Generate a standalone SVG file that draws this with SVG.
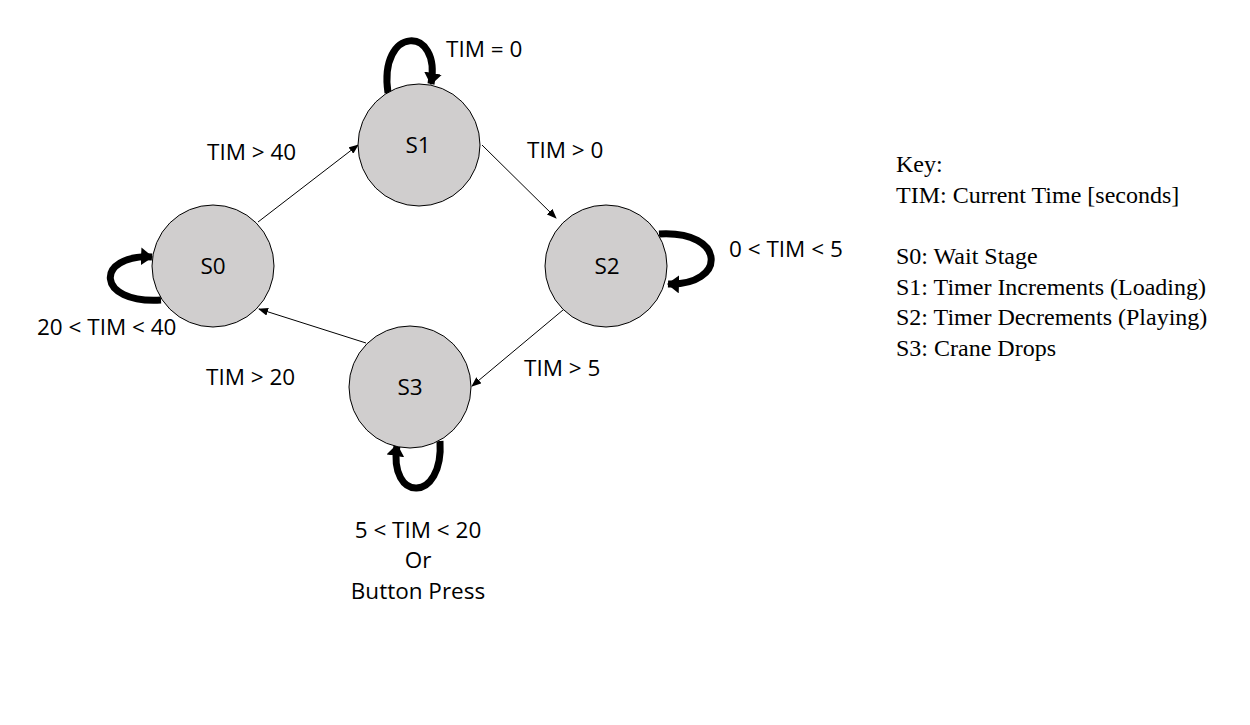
<svg xmlns="http://www.w3.org/2000/svg" width="1250" height="725" viewBox="0 0 1250 725">
<style>
.st{fill:#d0cece;stroke:#000;stroke-width:1}
.sl{font-family:"Open Sans","Liberation Sans",sans-serif;font-size:22.5px;fill:#000;text-anchor:middle}
.lb{font-family:"Open Sans","Liberation Sans",sans-serif;font-size:22.5px;fill:#000}
.key{font-family:"Liberation Serif",serif;font-size:24px;fill:#000}
.thin{fill:none;stroke:#000;stroke-width:1}
.thick{fill:none;stroke:#000;stroke-width:7}
</style>
<defs>
<marker id="a" markerWidth="10" markerHeight="8" refX="9" refY="4" orient="auto" markerUnits="userSpaceOnUse"><path d="M0,0 L10,4 L0,8 Z" fill="#000"/></marker>
<marker id="b" markerWidth="12" markerHeight="18" refX="11" refY="9" orient="auto" markerUnits="userSpaceOnUse"><path d="M0,0 L12,9 L0,18 Z" fill="#000"/></marker>
</defs>
<rect width="1250" height="725" fill="#fff"/>
<g id="connectors">
<line class="thin" x1="258" y1="222" x2="358" y2="145" marker-end="url(#a)"/>
<line class="thin" x1="482" y1="145" x2="556" y2="218" marker-end="url(#a)"/>
<line class="thin" x1="563" y1="310" x2="472" y2="386" marker-end="url(#a)"/>
<line class="thin" x1="366" y1="343" x2="259" y2="309" marker-end="url(#a)"/>
<path class="thick" d="M388,93 C378,25 442,25 431,84" marker-end="url(#b)"/>
<path class="thick" d="M161,300 C95,304 95,254 152,257" marker-end="url(#b)"/>
<path class="thick" d="M659,234 C727,230 727,286 668,284" marker-end="url(#b)"/>
<path class="thick" d="M440,441 C444,503 388,503 397,445" marker-end="url(#b)"/>
<text class="lb" x="446" y="57">TIM = 0</text>
<text class="lb" x="207" y="160">TIM &gt; 40</text>
<text class="lb" x="527" y="158">TIM &gt; 0</text>
<text class="lb" x="729" y="257">0 &lt; TIM &lt; 5</text>
<text class="lb" x="37" y="335">20 &lt; TIM &lt; 40</text>
<text class="lb" x="206" y="385">TIM &gt; 20</text>
<text class="lb" x="524" y="376">TIM &gt; 5</text>
<text class="sl" x="418" y="538">5 &lt; TIM &lt; 20</text>
<text class="sl" x="418" y="568">Or</text>
<text class="sl" x="418" y="599">Button Press</text>
</g>
<g id="S0"><circle class="st" cx="213" cy="266" r="61"/><text class="sl" x="213" y="274">S0</text></g>
<g id="S1"><circle class="st" cx="419" cy="145" r="61"/><text class="sl" x="418" y="153">S1</text></g>
<g id="S2"><circle class="st" cx="606" cy="266" r="61"/><text class="sl" x="607" y="274">S2</text></g>
<g id="S3"><circle class="st" cx="410" cy="387" r="61"/><text class="sl" x="410" y="395">S3</text></g>
<g id="key">
<text class="key" x="896" y="172">Key:</text>
<text class="key" x="896" y="203">TIM: Current Time [seconds]</text>
<text class="key" x="896" y="264">S0: Wait Stage</text>
<text class="key" x="896" y="295">S1: Timer Increments (Loading)</text>
<text class="key" x="896" y="325">S2: Timer Decrements (Playing)</text>
<text class="key" x="896" y="356">S3: Crane Drops</text>
</g>
</svg>
